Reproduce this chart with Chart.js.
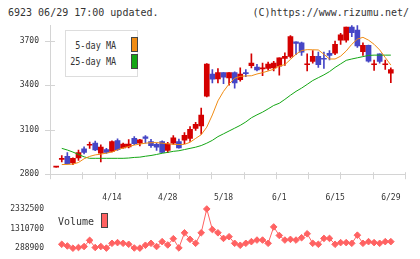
<!DOCTYPE html>
<html>
<head>
<meta charset="utf-8">
<script src="https://cdn.jsdelivr.net/npm/chart.js@4.4.1/dist/chart.umd.min.js"></script>
<style>
  html, body { margin: 0; padding: 0; background: #fff; }
  body { position: relative; width: 420px; height: 259px; overflow: hidden;
         font-family: "DejaVu Sans Mono", monospace; color: #333; }
  canvas { position: absolute; left: 0; }
  #graf-preco { top: 0; }
  #graf-volume { top: 190px; }
  .txt { position: absolute; white-space: pre; line-height: 12px; }
  .lg { font-size: 10px; transform: scaleX(0.85); transform-origin: right center; }
  .box { position: absolute; box-sizing: border-box; }
  .sw { position: absolute; box-sizing: border-box; width: 7px; height: 15px; border: 1px solid #444; }
</style>
</head>
<body>
<div class="txt" style="left:8px; top:7px; font-size:10px;">6923 06/29 17:00 updated.</div>
<div class="txt" style="right:11px; top:7px; font-size:10px;">(C)https://www.rizumu.net/</div>

<canvas id="graf-preco" width="420" height="190"></canvas>
<canvas id="graf-volume" width="420" height="69"></canvas>

<div class="box" style="left:65px; top:30px; width:73px; height:47px; border:1px solid #ddd; background:#fff;"></div>
<div class="txt lg" id="lg-ma5" style="right:304px; top:40px;"></div>
<div class="txt lg" id="lg-ma25" style="right:304px; top:56px;"></div>
<div class="sw" id="sw-ma5" style="left:131px; top:37px;"></div>
<div class="sw" id="sw-ma25" style="left:131px; top:54px;"></div>

<div class="txt" id="lg-vol" style="left:58px; top:216px; font-size:10px;"></div>
<div class="sw" id="sw-vol" style="left:101px; top:213px;"></div>

<script>
// dias de pregão (2020)
const dates = ["3/31",
  "4/1","4/2","4/3","4/6","4/7","4/8","4/9","4/10","4/13","4/14","4/15","4/16","4/17",
  "4/20","4/21","4/22","4/23","4/24","4/27","4/28","4/30",
  "5/1","5/7","5/8","5/11","5/12","5/13","5/14","5/15","5/18","5/19","5/20","5/21","5/22",
  "5/25","5/26","5/27","5/28","5/29",
  "6/1","6/2","6/3","6/4","6/5","6/8","6/9","6/10","6/11","6/12","6/15","6/16","6/17",
  "6/18","6/19","6/22","6/23","6/24","6/25","6/26","6/29"];

const open = [2848, 2900, 2920, 2876, 2909, 2971, 2995, 3009, 2941, 2965,
  2954, 3026, 2977, 2984, 3041, 3009, 3051, 3020, 3001, 3020,
  2960, 3009, 3020, 3030, 3041, 3108, 3125, 3326, 3474, 3442,
  3484, 3448, 3484, 3436, 3484, 3531, 3521, 3510, 3512, 3516,
  3527, 3580, 3594, 3692, 3685, 3537, 3559, 3594, 3580, 3615,
  3616, 3702, 3702, 3791, 3770, 3626, 3668, 3537, 3611, 3537, 3480];
const high = [2852, 2925, 2946, 2910, 2963, 2984, 3017, 3023, 2998, 2975,
  3025, 3038, 3010, 3034, 3054, 3035, 3060, 3035, 3010, 3025,
  3015, 3060, 3036, 3080, 3120, 3150, 3245, 3545, 3505, 3512,
  3484, 3484, 3490, 3516, 3505, 3611, 3540, 3548, 3555, 3560,
  3584, 3618, 3734, 3692, 3690, 3611, 3632, 3622, 3622, 3632,
  3696, 3749, 3791, 3801, 3801, 3685, 3670, 3569, 3611, 3569, 3516];
const low = [2848, 2882, 2868, 2865, 2893, 2937, 2973, 2958, 2882, 2940,
  2950, 2960, 2975, 2977, 2999, 2990, 3009, 2980, 2960, 2945,
  2945, 3000, 2975, 3005, 3020, 3095, 3070, 3320, 3415, 3415,
  3410, 3400, 3379, 3427, 3457, 3516, 3495, 3463, 3500, 3495,
  3467, 3533, 3584, 3605, 3600, 3495, 3548, 3520, 3512, 3569,
  3605, 3675, 3690, 3727, 3654, 3600, 3555, 3499, 3548, 3505, 3417];
const close = [2850, 2907, 2871, 2907, 2946, 2946, 3000, 2963, 2982, 2946,
  3020, 2966, 3003, 3003, 3005, 3032, 3041, 2992, 2982, 2946,
  3003, 3045, 2977, 3062, 3102, 3136, 3199, 3541, 3440, 3484,
  3453, 3484, 3415, 3474, 3478, 3548, 3502, 3516, 3541, 3548,
  3584, 3594, 3727, 3681, 3622, 3543, 3594, 3537, 3574, 3600,
  3675, 3738, 3791, 3753, 3664, 3668, 3562, 3543, 3559, 3543, 3505];

const ma5 = [null, 2865, 2866, 2868, 2879, 2904, 2920, 2930, 2935, 2942,
  2949, 2965, 2977, 2987, 2996, 3003, 3009, 3012, 3013, 3009,
  3005, 3001, 3000, 3001, 3015, 3041, 3066, 3117, 3199, 3294,
  3358, 3408, 3446, 3459, 3462, 3463, 3475, 3484, 3495, 3507,
  3529, 3538, 3573, 3608, 3633, 3639, 3638, 3637, 3608, 3576,
  3576, 3595, 3630, 3675, 3710, 3722, 3703, 3675, 3637, 3586, 3535];
const ma25 = [null, 2974, 2963, 2949, 2933, 2917, 2907, 2907, 2907, 2907,
  2907, 2907, 2907, 2909, 2913, 2915, 2921, 2926, 2933, 2941,
  2947, 2954, 2958, 2966, 2974, 2982, 2993, 3009, 3028, 3053,
  3072, 3091, 3110, 3129, 3152, 3180, 3200, 3218, 3240, 3263,
  3278, 3304, 3332, 3358, 3380, 3405, 3431, 3450, 3469, 3491,
  3519, 3543, 3567, 3576, 3584, 3592, 3600, 3602, 3602, 3602, 3602];

const volume = [null, 493000, 406000, 288900, 325000, 376000, 698000, 325000, 376000, 295000,
  544000, 580000, 544000, 493000, 300000, 292000, 442000, 544000, 376000, 631000,
  458000, 784000, 304000, 1091000, 749000, 544000, 1091000, 2332500, 1260000, 1091000,
  800000, 887000, 544000, 442000, 544000, 631000, 713000, 713000, 544000, 1398000,
  953000, 713000, 749000, 713000, 836000, 1040000, 544000, 493000, 800000, 800000,
  493000, 580000, 580000, 544000, 968000, 544000, 631000, 580000, 544000, 631000, 631000];

const priceTicks = [2800, 3100, 3400, 3700];
const volTicks = [288900, 1310700, 2332500];
const dateTicks = ["4/14", "4/28", "5/18", "6/1", "6/15", "6/29"];

const UP = "#d40000", DOWN = "#4646c6";
const MA5_COLOR = "#f08c14", MA25_COLOR = "#14a614", VOL_COLOR = "#ff6262";
const AXIS = "#d4d4d4";
const X_MIN = -1.11, X_MAX = 62.54;

Chart.defaults.font.family = "'DejaVu Sans Mono', monospace";
Chart.defaults.color = "#333";

const idx = dates.map((d, i) => i);
const candleColor = idx.map(i => close[i] >= open[i] ? UP : DOWN);

// marcas curtas que cruzam os eixos
const crossTicks = {
  id: "crossTicks",
  beforeDatasetsDraw(chart) {
    const { ctx, chartArea: a, scales } = chart;
    ctx.save();
    ctx.strokeStyle = AXIS;
    ctx.lineWidth = 1;
    ctx.beginPath();
    scales.y.ticks.forEach(t => {
      const py = Math.round(scales.y.getPixelForValue(t.value)) + 0.5;
      ctx.moveTo(a.left - 5, py); ctx.lineTo(a.left + 5, py);
    });
    scales.x.ticks.forEach(t => {
      const px = Math.round(scales.x.getPixelForValue(t.value)) + 0.5;
      ctx.moveTo(px, a.bottom - 2); ctx.lineTo(px, a.bottom + 5);
    });
    ctx.stroke();
    ctx.restore();
  }
};

// Gráfico de velas + médias móveis
new Chart(document.getElementById("graf-preco"), {
  type: "bar",
  data: {
    datasets: [
      { type: "bar", label: "wick", data: idx.map(i => ({ x: i, y: [low[i], high[i]] })),
        backgroundColor: candleColor, barThickness: 1, grouped: false, order: 2 },
      { type: "bar", label: "body", data: idx.map(i => ({ x: i, y: [open[i], close[i]] })),
        backgroundColor: candleColor, barThickness: 5, minBarLength: 1, grouped: false, order: 1 },
      { type: "line", label: "5-day MA", data: idx.map(i => ({ x: i, y: ma5[i] })),
        borderColor: MA5_COLOR, borderWidth: 1, pointRadius: 0, tension: 0, order: 0 },
      { type: "line", label: "25-day MA", data: idx.map(i => ({ x: i, y: ma25[i] })),
        borderColor: MA25_COLOR, borderWidth: 1, pointRadius: 0, tension: 0, order: 0 }
    ]
  },
  options: {
    responsive: false, animation: false, devicePixelRatio: 1,
    layout: { padding: { left: 0, right: 15, top: 25, bottom: 6 } },
    plugins: { legend: { display: false }, tooltip: { enabled: false } },
    scales: {
      x: {
        type: "linear", min: X_MIN, max: X_MAX, offset: false,
        grid: { display: false, drawTicks: false, offset: false },
        border: { display: true, color: AXIS },
        ticks: { display: false },
        afterBuildTicks: s => {
          s.ticks = Array.from({ length: 12 }, (_, k) => ({ value: X_MIN + k * (X_MAX - X_MIN) / 11 }));
        },
        afterFit: s => { s.height = 0; }
      },
      y: {
        min: 2800, max: 3805,
        grid: { display: false, drawTicks: false },
        border: { display: true, color: AXIS },
        ticks: { font: { size: 8 }, color: "#333", padding: 11, callback: v => String(v) },
        afterBuildTicks: s => { s.ticks = priceTicks.map(v => ({ value: v })); },
        afterFit: s => { s.width = 50; }
      }
    }
  },
  plugins: [crossTicks]
});

// Gráfico de volume
new Chart(document.getElementById("graf-volume"), {
  type: "line",
  data: {
    datasets: [{
      label: "Volume",
      data: idx.map(i => ({ x: i, y: volume[i] })),
      borderColor: VOL_COLOR, backgroundColor: VOL_COLOR, borderWidth: 1,
      pointStyle: "rectRot", pointRadius: 3.3, pointBorderWidth: 1, tension: 0, clip: false
    }]
  },
  options: {
    responsive: false, animation: false, devicePixelRatio: 1,
    layout: { padding: { left: 0, right: 15, top: 0, bottom: 10 } },
    plugins: { legend: { display: false }, tooltip: { enabled: false } },
    scales: {
      x: {
        type: "linear", position: "top", min: X_MIN, max: X_MAX,
        grid: { display: false, drawTicks: false }, border: { display: false },
        ticks: { font: { size: 8 }, color: "#333", padding: 6, maxRotation: 0, autoSkip: false,
                 callback: v => dates[v] },
        afterBuildTicks: s => { s.ticks = dateTicks.map(d => ({ value: dates.indexOf(d) })); },
        afterFit: s => { s.height = 19; }
      },
      y: {
        min: volTicks[0], max: volTicks[volTicks.length - 1],
        grid: { display: false, drawTicks: false }, border: { display: false },
        ticks: { font: { size: 8 }, color: "#333", padding: 6, callback: v => String(v) },
        afterBuildTicks: s => { s.ticks = volTicks.map(v => ({ value: v })); },
        afterFit: s => { s.width = 50; }
      }
    }
  }
});

// legendas
document.getElementById("lg-ma5").textContent = "5-day MA";
document.getElementById("lg-ma25").textContent = "25-day MA";
document.getElementById("lg-vol").textContent = "Volume";
document.getElementById("sw-ma5").style.background = MA5_COLOR;
document.getElementById("sw-ma25").style.background = MA25_COLOR;
document.getElementById("sw-vol").style.background = VOL_COLOR;
</script>
</body>
</html>
